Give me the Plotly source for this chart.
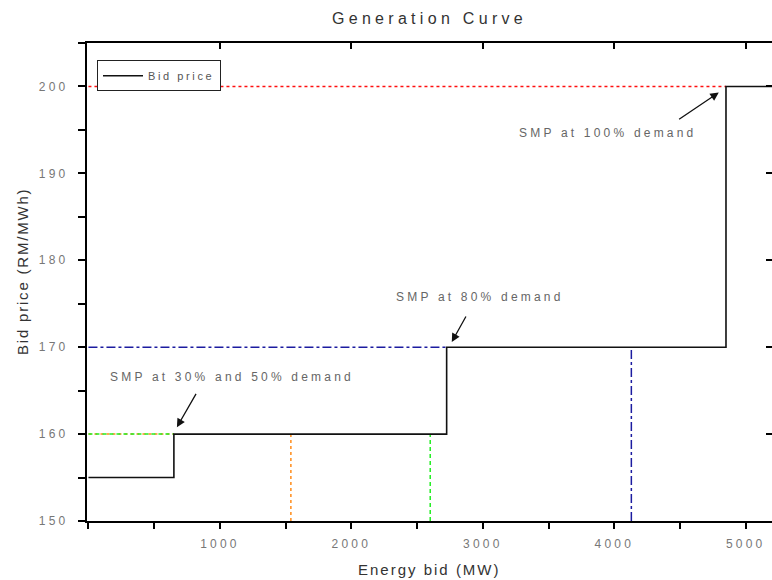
import plotly.graph_objects as go

# ---- data ----
step_mw = [0, 650, 2725, 4850, 5200]
step_price = [155, 160, 170, 200, 200]

demand_names = ["30%", "50%", "80%", "100%"]
demand_mw = [1540, 2600, 4130]            # vertical guide positions (30%, 50%, 80%)
demand_price = [160, 160, 170, 200]       # SMP at each demand level
price_start_mw = [650, 650, 2725, 4850]   # where each price level begins on the curve
guide_colors = ["#ff8c1a", "#22ee22", "#1c1ca0", "#ff1010"]
guide_dash = ["dot", "4px,3px", "dashdot", "dot"]

x_ticks = [1000, 2000, 3000, 4000, 5000]
y_ticks = [150, 160, 170, 180, 190, 200]

ann_text = ["SMP at 30% and 50% demand", "SMP at 80% demand", "SMP at 100% demand"]
ann_pos = [(1091, 166.55), (2977, 175.75), (3951, 194.6)]
arrow_tail = [(825, 164.8), (2878, 173.7), (4482, 196.1)]
arrow_head = [(673, 160.8), (2764, 170.6), (4795, 199.3)]

X_RANGE = [-11, 5200]
Y_RANGE = [150, 205]


def spaced(text, px):
    return f'<span style="letter-spacing:{px}px">{text}</span>'


fig = go.Figure()

# horizontal guides
for i in range(4):
    fig.add_trace(go.Scatter(
        x=[0, price_start_mw[i]], y=[demand_price[i], demand_price[i]],
        mode="lines", line=dict(color=guide_colors[i], width=1.5, dash=guide_dash[i]),
        showlegend=False, hoverinfo="skip"))
# vertical guides
for i in range(3):
    fig.add_trace(go.Scatter(
        x=[demand_mw[i], demand_mw[i]], y=[Y_RANGE[0], demand_price[i]],
        mode="lines", line=dict(color=guide_colors[i], width=1.5, dash=guide_dash[i]),
        showlegend=False, hoverinfo="skip"))

fig.add_trace(go.Scatter(
    x=step_mw, y=step_price, mode="lines", line_shape="hv",
    line=dict(color="#111111", width=1.6), name=spaced("Bid price", 2.6)))

# mirrored axes with inward ticks
fig.add_trace(go.Scatter(x=[None], y=[None], xaxis="x2", yaxis="y2", showlegend=False))

axis_font = dict(family="Liberation Sans, Arial", size=12, color="#777777")

fig.update_layout(
    width=772, height=580,
    margin=dict(l=87, r=0, t=43, b=59),
    paper_bgcolor="white", plot_bgcolor="white",
    title=dict(text=spaced("Generation Curve", 4.3), x=0.5, xref="paper", y=1 - 18 / 580,
               yref="container", yanchor="middle", xanchor="center",
               font=dict(family="Liberation Sans, Arial", size=16, color="#333333")),
    xaxis=dict(range=X_RANGE, tickvals=x_ticks,
               ticktext=[spaced(str(v), 3.2) for v in x_ticks],
               ticks="outside", ticklen=6, ticklabelstandoff=5,
               tickcolor="black", tickwidth=1.5, showline=True, linecolor="black",
               linewidth=2, showgrid=False, zeroline=False, tickfont=axis_font,
               minor=dict(dtick=500, tick0=500, ticks="outside", ticklen=6,
                          tickcolor="black", tickwidth=1.5, showgrid=False)),
    yaxis=dict(range=Y_RANGE, tickvals=y_ticks,
               ticktext=[spaced(str(v), 3.3) for v in y_ticks],
               ticks="outside", ticklen=7, ticklabelstandoff=7,
               tickcolor="black", tickwidth=1.5, showline=True, linecolor="black",
               linewidth=2, showgrid=False, zeroline=False, tickfont=axis_font,
               minor=dict(dtick=5, tick0=150, ticks="outside", ticklen=7,
                          tickcolor="black", tickwidth=1.5, showgrid=False)),
    xaxis2=dict(range=X_RANGE, overlaying="x", side="top", tickvals=x_ticks,
                ticks="inside", ticklen=6, tickcolor="black", tickwidth=1.5,
                showticklabels=False, showline=True, linecolor="black", linewidth=2,
                showgrid=False, zeroline=False),
    yaxis2=dict(range=Y_RANGE, overlaying="y", side="right", tickvals=y_ticks,
                ticks="inside", ticklen=6, tickcolor="black", tickwidth=1.5,
                showticklabels=False, showline=True, linecolor="black", linewidth=2,
                showgrid=False, zeroline=False),
    legend=dict(x=0.0146, y=0.964, xanchor="left", yanchor="top",
                bordercolor="#222222", borderwidth=1, bgcolor="white",
                font=dict(family="Liberation Sans, Arial", size=11, color="#555555"),
                itemwidth=40, tracegroupgap=0),
    showlegend=True,
)

annotations = []
for t, (ax_, ay_) in zip(ann_text, ann_pos):
    annotations.append(dict(x=ax_, y=ay_, xref="x", yref="y", text=spaced(t, 3.2),
                            showarrow=False, xanchor="center", yanchor="middle",
                            font=dict(family="Liberation Sans, Arial", size=12,
                                      color="#666666")))
for (tx, ty), (hx, hy) in zip(arrow_tail, arrow_head):
    annotations.append(dict(x=hx, y=hy, xref="x", yref="y", ax=tx, ay=ty, axref="x",
                            ayref="y", text="", showarrow=True, arrowhead=2,
                            arrowsize=1.3, arrowwidth=1.3, arrowcolor="#111111"))
annotations.append(dict(text=spaced("Energy bid (MW)", 2.0), x=0.5, y=(521 - 569) / 478,
                        xref="paper", yref="paper", showarrow=False,
                        xanchor="center", yanchor="middle",
                        font=dict(family="Liberation Sans, Arial", size=15, color="#333333")))
annotations.append(dict(text=spaced("Bid price (RM/MWh)", 1.8), x=(22 - 87) / 685,
                        y=(521 - 272) / 478,
                        xref="paper", yref="paper", showarrow=False, textangle=-90,
                        xanchor="center", yanchor="middle",
                        font=dict(family="Liberation Sans, Arial", size=15, color="#333333")))
fig.update_layout(annotations=annotations)

fig.write_html("out.html")
